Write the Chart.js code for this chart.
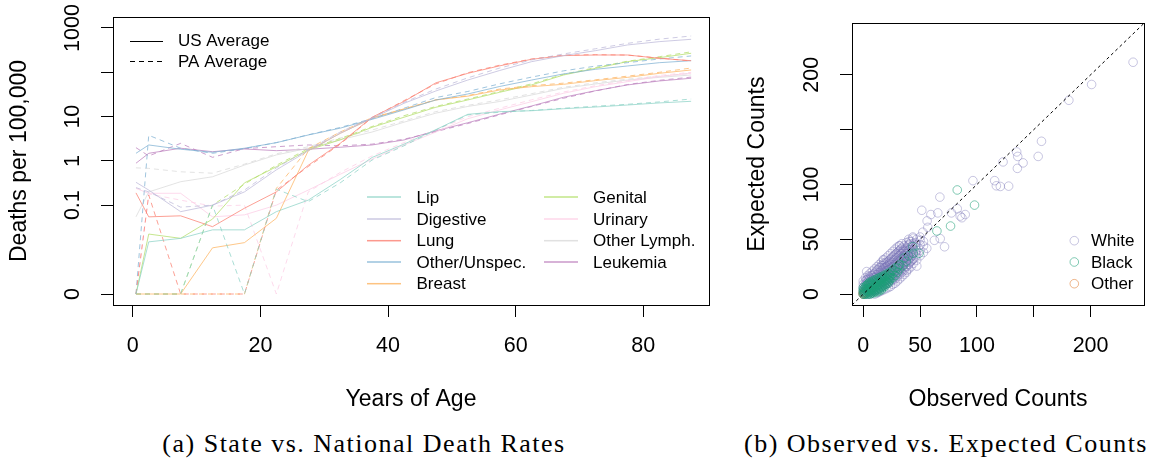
<!DOCTYPE html>
<html><head><meta charset="utf-8">
<script src="https://cdn.jsdelivr.net/npm/chart.js@4.4.0/dist/chart.umd.min.js"></script>
<style>
html,body{margin:0;padding:0;background:#fff;width:1151px;height:463px;overflow:hidden}
#ca{position:absolute;left:0;top:0}
#cb{position:absolute;left:740px;top:0}
.cap{position:absolute;top:431px;height:26px;line-height:26px;font-family:"Liberation Serif",serif;font-size:26px;letter-spacing:1.5px;color:#000;white-space:nowrap;transform:translateX(-50%)}
</style></head><body>
<canvas id="ca" width="740" height="420"></canvas>
<canvas id="cb" width="411" height="420"></canvas>
<div class="cap" id="capA" style="left:364px">(a) State vs. National Death Rates</div>
<div class="cap" id="capB" style="left:946px">(b) Observed vs. Expected Counts</div>
<script>
// ---------- Panel (a) data ----------
const ages = [0.5,2.5,7.5,12.5,17.5,22.5,27.5,32.5,37.5,42.5,47.5,52.5,57.5,62.5,67.5,72.5,77.5,82.5,87.5];
const cancerNames = ['Lip','Digestive','Lung','Other/Unspec.','Breast','Genital','Urinary','Other Lymph.','Leukemia'];
const cancerColors = ['#8DD3C7','#BEBADA','#FB8072','#80B1D3','#FDB462','#B3DE69','#FCCDE5','#D9D9D9','#BC80BD'];

const usLip = [0,0.014,0.017,0.027,0.027,0.071,0.13,0.38,1.2,2.4,5.1,11.3,13,13.6,15.1,16.5,18.3,20.4,22.2];
const paLip = [0,0,0,0.1,0,0.23,0.12,0.32,1.05,2.2,5.0,11,12.6,13.8,15.5,17.2,19,21.5,25];
const usDigestive = [0.33,0.22,0.071,0.10,0.20,0.63,1.7,4.2,9.2,20,38,67,110,174,238,308,414,492,556];
const paDigestive = [0.25,0.2,0.09,0.1,0.22,0.7,1.8,4.5,9.5,21,42,75,125,190,260,340,450,560,660];
const usLung = [0.19,0.054,0.057,0.032,0.085,0.20,0.8,2.5,9.7,22,58,95,140,197,238,246,246,207,183];
const paLung = [0,0.17,0,0,0,0.22,0.75,2.4,9.5,23,55,98,145,200,245,250,245,210,180];
const usOther = [1.49,2.3,1.84,1.57,1.94,2.59,3.86,5.5,8.7,14.2,23.8,32.5,48,67,92,117,139,165,183];
const paOther = [0,3.8,1.94,1.49,1.9,2.6,3.9,5.7,9,15.5,27,37,55,78,108,138,165,200,234];
const usBreast = [0,0,0,0.010,0.0134,0.05,1.7,4.2,9.2,14.7,23.8,29,40,47.5,53.7,65,77,95,113];
const paBreast = [0,0,0,0,0,0.24,1.9,4.5,9.5,15,24,30,42,50,57,68,82,100,125];
const usGenital = [0,0.0215,0.017,0.048,0.32,0.74,1.77,3.0,5.75,9.7,16.3,23.8,35.5,52,87,123,174,214,269];
const paGenital = [0,0,0,0.1,0.3,0.8,1.9,3.2,6,10.5,17,25,37,55,90,128,178,225,290];
const usUrinary = [0.24,0.186,0.186,0.054,0.060,0.10,0.22,0.5,1.1,2.3,4.5,9,14.2,21.8,33.7,47.5,61.6,80,95];
const paUrinary = [0,0.18,0.13,0.095,0.1,0,0.2,0.55,1.3,2.6,5,10,15.5,24,36,50,65,85,100];
const usLymph = [0.054,0.20,0.34,0.44,0.81,1.37,1.94,3.0,4.5,7.5,12,17,22,30.8,43.6,54.6,67,77,87];
const paLymph = [0.7,0.68,0.57,0.53,0.85,1.45,2.1,3.3,5,8,13,18,24,33,46,58,70,82,95];
const usLeukemia = [0.89,1.49,1.94,1.62,1.87,1.71,1.84,2.04,2.3,2.98,4.8,7.3,11.4,17.4,27.4,38.5,51.9,63.8,73.5];
const paLeukemia = [2.0,1.3,2.5,1.21,1.9,2.1,2.3,2.2,2.4,3.1,4.6,7.0,11,17,26,38,53,66,78];

const usSeries = [usLip,usDigestive,usLung,usOther,usBreast,usGenital,usUrinary,usLymph,usLeukemia];
const paSeries = [paLip,paDigestive,paLung,paOther,paBreast,paGenital,paUrinary,paLymph,paLeukemia];

const yTickValuesA = [0,0.1,1,10,100,1000];
const yTickLabelsA = ['0','0.1','1','10','','1000'];
const xTickValuesA = [0,20,40,60,80];

// ---------- Panel (b) data ----------
const ticksB = [0,50,100,150,200];
const tickLabelsB = ['0','50','100','','200'];
const groupNames = ['White','Black','Other'];
const groupColors = ['rgba(117,112,179,0.40)','rgba(27,158,119,0.55)','rgba(217,95,2,0.45)'];

const whitePts = [
[0,0],[0,3],[0,6],[0,9],[0,12],
[2,0],[2,4],[2,8],[2,12],[2,15],
[4,0],[4,2],[4,5],[4,8],[4,11],[4,14],[4,17],
[6,0],[6,3],[6,6],[6,9],[6,12],[6,15],[6,19],
[8,1],[8,4],[8,7],[8,10],[8,13],[8,17],[8,21],
[10,0],[10,3],[10,6],[10,9],[10,12],[10,15],[10,19],[10,23],
[12,1],[12,4],[12,8],[12,11],[12,14],[12,18],[12,22],[12,25],
[14,2],[14,5],[14,9],[14,12],[14,16],[14,20],[14,24],[14,27],
[16,3],[16,7],[16,10],[16,14],[16,18],[16,22],[16,26],[16,29],
[18,4],[18,8],[18,12],[18,16],[18,20],[18,24],[18,28],[18,31],
[20,5],[20,9],[20,13],[20,17],[20,21],[20,25],[20,29],[20,33],
[22,6],[22,10],[22,14],[22,18],[22,22],[22,26],[22,30],[22,35],
[24,7],[24,11],[24,15],[24,19],[24,23],[24,27],[24,32],[24,37],
[26,9],[26,13],[26,17],[26,21],[26,25],[26,29],[26,34],[26,39],
[28,10],[28,14],[28,18],[28,22],[28,27],[28,31],[28,36],[28,41],
[30,12],[30,16],[30,20],[30,24],[30,28],[30,33],[30,38],[30,43],
[32,14],[32,18],[32,22],[32,26],[32,30],[32,35],[32,40],[32,44],
[34,16],[34,20],[34,24],[34,28],[34,32],[34,37],[34,42],[34,46],
[36,18],[36,22],[36,27],[36,31],[36,35],[36,39],[36,44],
[38,20],[38,25],[38,29],[38,33],[38,37],[38,42],[38,47],
[40,23],[40,27],[40,31],[40,35],[40,40],[40,45],[40,50],
[42,25],[42,30],[42,34],[42,38],[42,43],[42,48],
[44,28],[44,32],[44,37],[44,41],[44,46],[44,51],
[47,31],[47,36],[47,40],[47,45],[47,50],
[50,35],[50,40],[50,45],[50,49],
[53,38],[53,44],[53,48],
[1,2],[1,5],[1,8],
[3,1],[3,4],[3,7],[3,10],[3,13],
[5,2],[5,4],[5,7],[5,10],[5,13],[5,16],
[7,2],[7,5],[7,8],[7,11],[7,14],[7,17],
[9,3],[9,6],[9,9],[9,12],[9,15],[9,18],
[11,4],[11,7],[11,10],[11,13],[11,16],[11,20],
[13,5],[13,8],[13,11],[13,15],[13,18],[13,22],
[15,6],[15,9],[15,13],[15,16],[15,20],[15,24],
[17,7],[17,11],[17,14],[17,18],[17,22],[17,26],
[19,9],[19,12],[19,16],[19,20],[19,24],[19,27],
[21,10],[21,14],[21,18],[21,22],[21,26],[21,29],
[23,12],[23,16],[23,20],[23,24],[23,28],[23,31],
[25,13],[25,17],[25,21],[25,25],[25,29],[25,33],
[27,15],[27,19],[27,23],[27,27],[27,31],[27,35],
[29,17],[29,21],[29,25],[29,29],[29,33],[29,37],
[31,19],[31,23],[31,27],[31,31],[31,35],[31,39],
[33,21],[33,25],[33,29],[33,33],[33,37],[33,41],
[35,23],[35,27],[35,31],[35,35],[35,39],
[37,25],[37,29],[37,33],[37,37],[37,41],
[39,27],[39,31],[39,35],[39,39],[39,44],
[41,29],[41,33],[41,37],[41,41],[41,46],
[43,31],[43,35],[43,39],[43,44],
[46,34],[46,38],[46,43],[46,47],
[3,20.6],[17.6,31.5],[31.8,44.1],[35.3,40.3],[38.3,21.8],[40.6,48.2],[47.1,25.6],
[237.4,211.5],[200.9,191.2],[180.9,176.8],[156.8,139.4],[153.9,125.6],[140.6,119.7],[135.6,114.7],[135,129.7],[135.9,125.6],[123,120.6],[96.5,103.5],[115.6,103.5],[117.1,98.8],[120.6,98.2],[127.9,98.5],[67.4,88.5],[51.5,76.5],[59.5,72.6],[65.6,74.1],[77.6,74.1],[82.7,77.9],[85.3,71.2],[89.7,72.6],[86.8,69.7],[56.2,66.8],[56.8,60.9],[52.4,56.5],[67.7,50.6],[71.5,43.2],[62.6,49.1],[50,52.1],[43.6,52.1],[55.9,41.8]
];
const blackPts = [
[0,0],[0,2],[0,4],[0,6],
[1,0],[1,1],[1,3],[1,5],
[2,0],[2,2],[2,4],[2,7],
[3,1],[3,3],[3,5],[3,8],
[4,0],[4,2],[4,4],[4,6],[4,9],
[5,1],[5,3],[5,5],[5,8],[5,10],
[6,0],[6,2],[6,4],[6,6],[6,9],[6,11],
[7,1],[7,3],[7,5],[7,8],[7,10],
[8,2],[8,4],[8,6],[8,9],[8,12],
[9,1],[9,3],[9,5],[9,8],[9,11],
[10,2],[10,4],[10,7],[10,10],[10,13],
[11,3],[11,6],[11,9],[11,12],
[12,2],[12,5],[12,8],[12,11],[12,14],
[13,4],[13,7],[13,10],[13,13],
[14,3],[14,6],[14,9],[14,12],[14,15],
[15,5],[15,8],[15,11],[15,14],
[16,4],[16,7],[16,10],[16,13],[16,16],
[17,6],[17,9],[17,12],[17,15],
[18,8],[18,11],[18,14],[18,17],
[19,7],[19,10],[19,13],[19,16],
[20,9],[20,12],[20,15],[20,18],
[21,11],[21,14],[21,17],
[22,10],[22,13],[22,16],[22,19],
[23,12],[23,15],[23,18],
[24,14],[24,17],[24,20],
[26,15],[26,19],[26,22],
[28,17],[28,21],[28,24],
[30,20],[30,24],[32,23],[32,27],[35,26],[38,30],
[30.9,25.6],[43.6,43.2],[44.1,37.3],[49.1,37.3],[64.8,57.6],[76.8,62.1],[82.7,95.0],[97.9,81.2],[36,33],[40,35]
];
const otherPts = [[0,0],[1,1],[2,1],[0,1],[1,2],[3,3],[2,2],[4,3]];

// ---------- helpers ----------
const FONT = 'Liberation Sans';
const tr = v => Math.log10(v + 0.001);
function withAlpha(hex, a){
  const n = parseInt(hex.slice(1),16);
  return 'rgba(' + ((n>>16)&255) + ',' + ((n>>8)&255) + ',' + (n&255) + ',' + a + ')';
}
const boxPlugin = {
  id:'box',
  afterDatasetsDraw(chart){
    const {ctx, chartArea:a} = chart;
    ctx.save(); ctx.strokeStyle='#000'; ctx.lineWidth=1;
    ctx.strokeRect(Math.round(a.left)+0.5, Math.round(a.top)+0.5, Math.round(a.right-a.left), Math.round(a.bottom-a.top));
    ctx.restore();
  }
};

// ---------- Panel (a) ----------
const dsA = [];
cancerNames.forEach((name,i)=>{
  const col = withAlpha(cancerColors[i],0.75);
  dsA.push({label:name+' US', data: ages.map((a,j)=>({x:a,y:tr(usSeries[i][j])})), borderColor:col, borderWidth:1, pointRadius:0, tension:0, fill:false});
  dsA.push({label:name+' PA', data: ages.map((a,j)=>({x:a,y:tr(paSeries[i][j])})), borderColor:col, borderWidth:1, borderDash:[5,4], pointRadius:0, tension:0, fill:false});
});

const legendA = {
  id:'legendA',
  afterDatasetsDraw(chart){
    const ctx = chart.ctx;
    ctx.save();
    ctx.font = '17px "' + FONT + '"'; ctx.textBaseline='middle';
    ctx.lineWidth=1; ctx.strokeStyle='#000';
    ctx.beginPath(); ctx.moveTo(130,41.5); ctx.lineTo(163,41.5); ctx.stroke();
    ctx.setLineDash([5,4]); ctx.beginPath(); ctx.moveTo(130,61.5); ctx.lineTo(163,61.5); ctx.stroke(); ctx.setLineDash([]);
    ctx.fillStyle='#000';
    ctx.fillText('US Average',178,41); ctx.fillText('PA Average',178,62);
    const rows = [197,219,240.7,262,283.7];
    cancerNames.forEach((name,i)=>{
      const c = i<5 ? 0 : 1, r = i<5 ? i : i-5;
      const lx = c===0 ? 367 : 544, tx = c===0 ? 416.5 : 593;
      const y = rows[r];
      ctx.globalAlpha = 0.8;
      ctx.fillStyle = cancerColors[i];
      ctx.fillRect(lx, y - 0.75, 34, 1.5);
      ctx.globalAlpha = 1;
      ctx.fillStyle = '#000';
      ctx.fillText(name, tx, y+1);
    });
    ctx.restore();
  }
};

new Chart(document.getElementById('ca'), {
  type:'line',
  data:{datasets:dsA},
  plugins:[boxPlugin, legendA],
  options:{
    responsive:false, animation:false, events:[],
    layout:{padding:{top:17,right:31,left:0,bottom:0}},
    plugins:{legend:{display:false}, tooltip:{enabled:false}},
    scales:{
      x:{type:'linear', position:'bottom', min:-3.1, max:90.3,
        afterFit:s=>{s.height=115;},
        afterBuildTicks:s=>{s.ticks = xTickValuesA.map(v=>({value:v}));},
        ticks:{autoSkip:false, maxRotation:0, padding:16.6, color:'#000', font:{family:FONT,size:21.5}},
        grid:{drawOnChartArea:false, drawTicks:true, tickLength:12, color:'#000', lineWidth:1},
        border:{display:false},
        title:{display:true, text:'Years of Age', color:'#000', font:{family:FONT,size:23}, padding:{top:0,bottom:6.2}}
      },
      y:{type:'linear', min:-3.248, max:3.248,
        afterFit:s=>{s.width=113;},
        afterBuildTicks:s=>{s.ticks = yTickValuesA.map(v=>({value:tr(v)}));},
        ticks:{autoSkip:false, minRotation:90, maxRotation:90, crossAlign:'center', padding:3.6, color:'#000', font:{family:FONT,size:21.5},
          callback:(v,idx)=>yTickLabelsA[idx]},
        grid:{drawOnChartArea:false, drawTicks:true, tickLength:12, color:'#000', lineWidth:1},
        border:{display:false},
        title:{display:true, text:'Deaths per 100,000', color:'#000', font:{family:FONT,size:23}, padding:{top:6,bottom:0}}
      }
    }
  }
});

// ---------- Panel (b) ----------
const LIM_B = [-9.9, 247];
const toXY = arr => arr.map(p=>({x:p[0],y:p[1]}));
const legendB = {
  id:'legendB',
  afterDatasetsDraw(chart){
    const ctx = chart.ctx;
    ctx.save();
    ctx.font = '17px "' + FONT + '"'; ctx.textBaseline='middle'; ctx.lineWidth=1;
    const rows = [240.7,262,283.7];
    groupNames.forEach((g,i)=>{
      ctx.strokeStyle = groupColors[i];
      ctx.beginPath(); ctx.arc(334.3, rows[i], 4.3, 0, Math.PI*2); ctx.stroke();
      ctx.fillStyle='#000';
      ctx.fillText(g, 351, rows[i]+1);
    });
    ctx.restore();
  }
};
new Chart(document.getElementById('cb'), {
  type:'scatter',
  data:{datasets:[
    {label:'diag', data:[{x:LIM_B[0],y:LIM_B[0]},{x:LIM_B[1],y:LIM_B[1]}], showLine:true, borderColor:'#000', borderWidth:1, borderDash:[3,3], pointRadius:0, order:-1},
    {label:'Black', data:toXY(blackPts), pointRadius:4.3, pointBorderWidth:1, pointBackgroundColor:'rgba(0,0,0,0)', pointBorderColor:groupColors[1], order:0},
    {label:'White', data:toXY(whitePts), pointRadius:4.3, pointBorderWidth:1, pointBackgroundColor:'rgba(0,0,0,0)', pointBorderColor:groupColors[0], order:1},
    {label:'Other', data:toXY(otherPts), pointRadius:4.3, pointBorderWidth:1, pointBackgroundColor:'rgba(0,0,0,0)', pointBorderColor:groupColors[2], order:2}
  ]},
  plugins:[boxPlugin, legendB],
  options:{
    responsive:false, animation:false, events:[],
    layout:{padding:{top:14,right:7,left:0,bottom:0}},
    plugins:{legend:{display:false}, tooltip:{enabled:false}},
    scales:{
      x:{type:'linear', position:'bottom', min:LIM_B[0], max:LIM_B[1],
        afterFit:s=>{s.height=115;},
        afterBuildTicks:s=>{s.ticks = ticksB.map(v=>({value:v}));},
        ticks:{autoSkip:false, maxRotation:0, padding:16.6, color:'#000', font:{family:FONT,size:21.5}, callback:(v,idx)=>tickLabelsB[idx]},
        grid:{drawOnChartArea:false, drawTicks:true, tickLength:12, color:'#000', lineWidth:1},
        border:{display:false},
        title:{display:true, text:'Observed Counts', color:'#000', font:{family:FONT,size:23}, padding:{top:0,bottom:6.2}}
      },
      y:{type:'linear', min:LIM_B[0], max:LIM_B[1],
        afterFit:s=>{s.width=112;},
        afterBuildTicks:s=>{s.ticks = ticksB.map(v=>({value:v}));},
        ticks:{autoSkip:false, minRotation:90, maxRotation:90, crossAlign:'center', padding:10.4, color:'#000', font:{family:FONT,size:21.5},
          callback:(v,idx)=>tickLabelsB[idx]},
        grid:{drawOnChartArea:false, drawTicks:true, tickLength:12, color:'#000', lineWidth:1},
        border:{display:false},
        title:{display:true, text:'Expected Counts', color:'#000', font:{family:FONT,size:23}, padding:{top:3.7,bottom:0}}
      }
    }
  }
});
</script>
</body></html>
